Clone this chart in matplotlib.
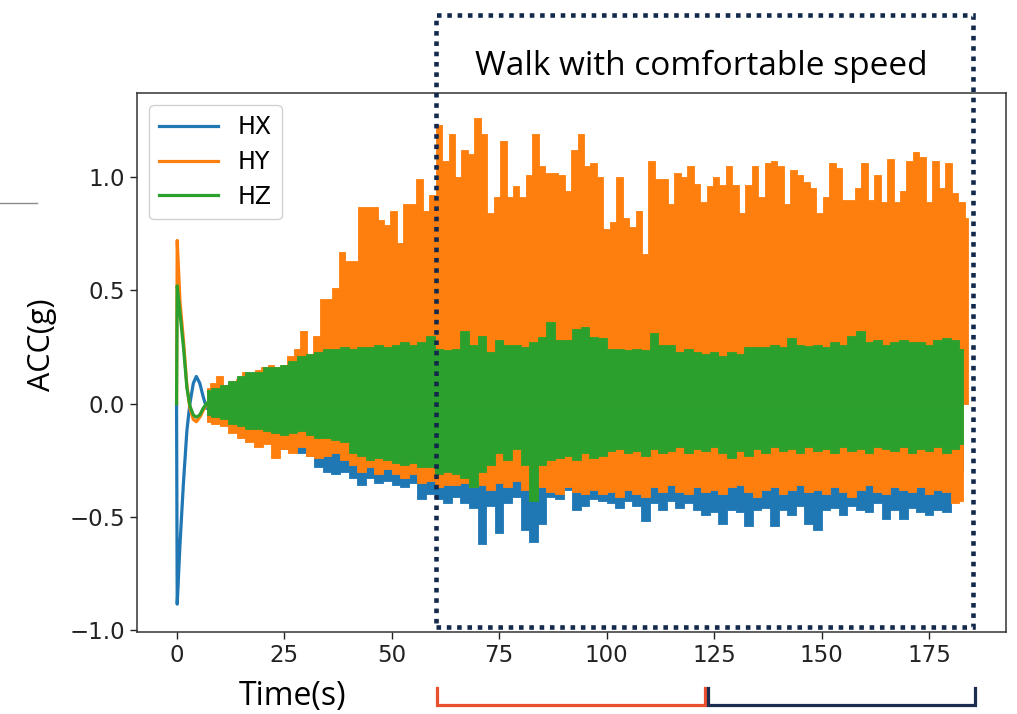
import numpy as np
import matplotlib
matplotlib.use("Agg")
import matplotlib.pyplot as plt
from matplotlib.patches import Rectangle
from matplotlib.lines import Line2D

# ---------------- data ----------------
series = ["HX", "HY", "HZ"]
colors = ["#1f77b4", "#ff7f0e", "#2ca02c"]

# start-up transient (s, g)
t_start = [0.0, 0.15, 0.8, 1.6, 2.4, 3.1, 3.9, 4.6, 5.4, 6.2, 7.0]
hx_start = [0.0, -0.885, -0.62, -0.35, -0.12, 0.0, 0.09, 0.12, 0.09, 0.03, -0.02]
hy_start = [0.0, 0.72, 0.45, 0.28, 0.08, -0.02, -0.07, -0.08, -0.06, -0.03, 0.0]
hz_start = [0.0, 0.52, 0.40, 0.25, 0.07, -0.01, -0.05, -0.06, -0.05, -0.02, 0.0]

# envelopes of the fast oscillation
t_fine = np.arange(7.0, 184.01, 1.5)
hy_upper = [0.07, 0.09, 0.12, 0.08, 0.10, 0.11, 0.14, 0.12, 0.15, 0.16,
            0.17, 0.16, 0.17, 0.21, 0.24, 0.32, 0.22, 0.30, 0.46, 0.46,
            0.51, 0.67, 0.63, 0.63, 0.87, 0.87, 0.87, 0.81, 0.79, 0.85,
            0.71, 0.88, 0.88, 0.99, 0.85, 0.92, 1.23, 1.07, 1.19, 1.00,
            1.12, 1.10, 1.26, 1.19, 0.84, 0.91, 1.16, 0.91, 0.96, 0.91,
            1.01, 1.19, 1.05, 1.02, 1.02, 1.01, 0.94, 1.12, 1.19, 1.05,
            1.06, 1.00, 0.77, 0.80, 1.00, 0.82, 0.78, 0.85, 0.66, 1.07,
            0.99, 0.99, 0.88, 1.02, 1.00, 1.05, 0.97, 0.89, 0.96, 1.00,
            0.965, 1.05, 0.965, 0.84, 0.965, 1.05, 0.91, 1.06, 1.07, 1.05,
            0.88, 1.03, 1.01, 0.98, 0.95, 0.84, 0.91, 1.06, 1.04, 0.90,
            0.90, 0.95, 1.06, 0.90, 1.01, 0.89, 1.08, 0.89, 0.94, 1.07,
            1.11, 1.09, 0.89, 1.07, 0.95, 1.06, 0.93, 0.89, 0.82]

t_env = np.arange(7.0, 183.01, 2.0)
hz_upper = [0.06, 0.07, 0.08, 0.10, 0.12, 0.14, 0.14, 0.16, 0.16, 0.17,
            0.19, 0.21, 0.22, 0.23, 0.24, 0.24, 0.25, 0.24, 0.25, 0.25,
            0.26, 0.25, 0.26, 0.27, 0.26, 0.27, 0.30, 0.24, 0.235, 0.24,
            0.32, 0.26, 0.30, 0.23, 0.28, 0.26, 0.26, 0.25, 0.27, 0.295,
            0.36, 0.28, 0.28, 0.33, 0.34, 0.295, 0.29, 0.24, 0.24, 0.235,
            0.24, 0.235, 0.31, 0.26, 0.26, 0.23, 0.24, 0.23, 0.22, 0.23,
            0.21, 0.23, 0.22, 0.25, 0.25, 0.25, 0.26, 0.25, 0.29, 0.26,
            0.255, 0.26, 0.25, 0.27, 0.26, 0.30, 0.32, 0.27, 0.28, 0.26,
            0.27, 0.28, 0.27, 0.27, 0.26, 0.28, 0.29, 0.28, 0.24]
hz_lower = [-0.05, -0.06, -0.07, -0.09, -0.10, -0.11, -0.11, -0.12, -0.13, -0.14,
            -0.13, -0.12, -0.14, -0.15, -0.15, -0.16, -0.17, -0.22, -0.23, -0.25,
            -0.24, -0.25, -0.26, -0.27, -0.26, -0.28, -0.28, -0.31, -0.30, -0.31,
            -0.33, -0.37, -0.30, -0.27, -0.22, -0.25, -0.20, -0.27, -0.43, -0.27,
            -0.25, -0.24, -0.23, -0.25, -0.22, -0.24, -0.23, -0.21, -0.20, -0.22,
            -0.21, -0.23, -0.20, -0.22, -0.21, -0.19, -0.22, -0.20, -0.21, -0.19,
            -0.22, -0.24, -0.21, -0.23, -0.20, -0.22, -0.19, -0.21, -0.20, -0.22,
            -0.19, -0.21, -0.20, -0.22, -0.19, -0.21, -0.20, -0.22, -0.19, -0.20,
            -0.21, -0.19, -0.22, -0.20, -0.21, -0.19, -0.22, -0.20, -0.18]
hy_lower = [-0.08, -0.09, -0.10, -0.13, -0.15, -0.17, -0.19, -0.18, -0.24, -0.20,
            -0.22, -0.19, -0.23, -0.24, -0.23, -0.22, -0.25, -0.27, -0.30, -0.28,
            -0.31, -0.29, -0.31, -0.33, -0.31, -0.35, -0.34, -0.37, -0.36, -0.36,
            -0.35, -0.37, -0.36, -0.38, -0.35, -0.37, -0.34, -0.38, -0.40, -0.37,
            -0.39, -0.40, -0.37, -0.39, -0.40, -0.38, -0.40, -0.39, -0.41, -0.38,
            -0.40, -0.41, -0.37, -0.39, -0.36, -0.39, -0.40, -0.37, -0.39, -0.38,
            -0.40, -0.37, -0.36, -0.39, -0.41, -0.38, -0.37, -0.40, -0.38, -0.36,
            -0.39, -0.38, -0.40, -0.37, -0.39, -0.41, -0.38, -0.36, -0.39, -0.40,
            -0.37, -0.38, -0.39, -0.37, -0.40, -0.38, -0.39, -0.44, -0.43]
hx_lower = [-0.07, -0.08, -0.09, -0.10, -0.12, -0.14, -0.15, -0.17, -0.18, -0.20,
            -0.21, -0.22, -0.23, -0.28, -0.30, -0.31, -0.30, -0.33, -0.36, -0.33,
            -0.35, -0.34, -0.36, -0.37, -0.35, -0.42, -0.40, -0.42, -0.44, -0.41,
            -0.44, -0.46, -0.62, -0.45, -0.57, -0.44, -0.41, -0.56, -0.61, -0.53,
            -0.41, -0.42, -0.38, -0.47, -0.45, -0.42, -0.43, -0.44, -0.46, -0.43,
            -0.45, -0.52, -0.44, -0.47, -0.43, -0.46, -0.44, -0.47, -0.49, -0.48,
            -0.53, -0.47, -0.48, -0.54, -0.47, -0.46, -0.54, -0.47, -0.49, -0.45,
            -0.53, -0.56, -0.47, -0.46, -0.49, -0.45, -0.47, -0.48, -0.44, -0.51,
            -0.47, -0.51, -0.46, -0.48, -0.49, -0.47, -0.48, -0.40, -0.30]

t_coarse = np.arange(7.0, 183.01, 4.0)
hx_upper = [0.04, 0.06, 0.08, 0.10, 0.11, 0.12, 0.13, 0.14, 0.15, 0.15,
            0.16, 0.16, 0.17, 0.17, 0.17, 0.18, 0.18, 0.17, 0.18, 0.18,
            0.17, 0.18, 0.18, 0.17, 0.18, 0.18, 0.17, 0.18, 0.18, 0.17,
            0.18, 0.18, 0.17, 0.18, 0.18, 0.17, 0.18, 0.18, 0.17, 0.18,
            0.18, 0.17, 0.18, 0.18, 0.17]

x_ticks = [0, 25, 50, 75, 100, 125, 150, 175]
y_ticks = [-1.0, -0.5, 0.0, 0.5, 1.0]
annotation = "Walk with comfortable speed"
x_label = "Time(s)"
y_label = "ACC(g)"

# ---------------- drawing ----------------
W, H = 1017, 714
fig = plt.figure(figsize=(W / 100, H / 100), dpi=100)

def fx(px):
    return px / W

def fy(py):
    return 1 - py / H

ax = fig.add_axes([fx(137), fy(632), fx(1006) - fx(137), fy(93) - fy(632)])

envelopes = {
    "HX": [(t_coarse, hx_upper), (t_env, hx_lower)],
    "HY": [(t_fine, hy_upper), (t_env, hy_lower)],
    "HZ": [(t_env, hz_upper), (t_env, hz_lower)],
}
starts = {"HX": hx_start, "HY": hy_start, "HZ": hz_start}

handles = []
for i, (name, col) in enumerate(zip(series, colors)):
    z = 2 + i
    for tt, vv in envelopes[name]:
        ax.fill_between(tt, 0, vv, step="mid", color=col, lw=0.6,
                        edgecolor=col, zorder=z)
    ln, = ax.plot(t_start, starts[name], color=col, lw=2.3, zorder=z + 0.5,
                  label=name)
    handles.append(ln)

ax.set_xlim(-9.2, 192.9)
ax.set_ylim(-1.008, 1.371)
ax.set_xticks(x_ticks)
ax.set_yticks(y_ticks)
ax.tick_params(labelsize=16.5, length=5, width=1.0, colors="#222222")
for s in ax.spines.values():
    s.set_linewidth(1.1)
    s.set_color("#333333")

leg = ax.legend(handles=handles, loc="upper left", fontsize=17,
                handlelength=2.5, handletextpad=0.8, labelspacing=0.45,
                borderpad=0.45, framealpha=0.9, edgecolor="#cccccc")
for lh in leg.get_lines():
    lh.set_linewidth(2.3)

# annotations drawn on the figure
fig.add_artist(Line2D([fx(0), fx(37)], [fy(203), fy(203)], color="#8c8c8c", lw=1.0))

rect = Rectangle((fx(436), fy(627)), fx(973) - fx(436), fy(15) - fy(627),
                 transform=fig.transFigure, fill=False, edgecolor="#13294b",
                 lw=3.3, linestyle=(0, (1, 1.25)), zorder=10)
rect.set_capstyle("butt")
fig.add_artist(rect)

fig.text(fx(701), fy(75), annotation, ha="center", va="baseline",
         fontsize=24, family="Open Sans", color="black")
fig.text(fx(293), fy(696), x_label, ha="center", va="center",
         fontsize=23, family="Open Sans", color="black")
fig.text(fx(42), fy(345), y_label, ha="center", va="center", rotation=90,
         fontsize=22, family="Open Sans", color="black")

fig.add_artist(Line2D([fx(437), fx(437), fx(705), fx(705)],
                      [fy(688), fy(705), fy(705), fy(688)],
                      color="#e8502e", lw=2.3, solid_joinstyle="miter"))
fig.add_artist(Line2D([fx(708), fx(708), fx(975), fx(975)],
                      [fy(688), fy(705), fy(705), fy(688)],
                      color="#1c2d4f", lw=2.3, solid_joinstyle="miter"))

fig.savefig("out.png", dpi=100)
